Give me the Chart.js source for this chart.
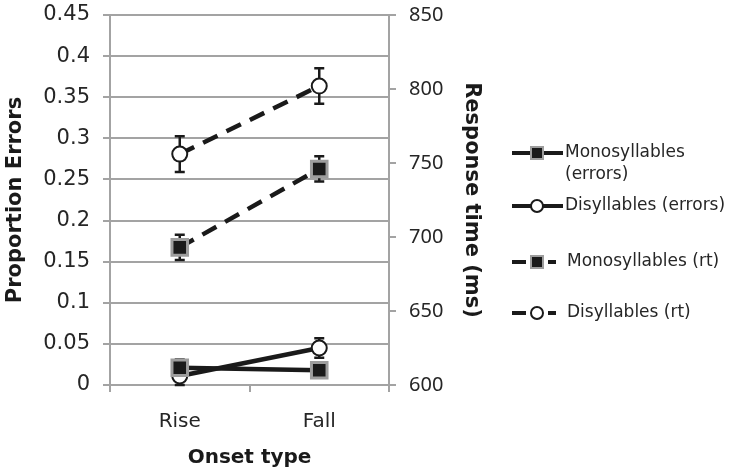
<!DOCTYPE html>
<html>
<head>
<meta charset="utf-8">
<script src="https://cdn.jsdelivr.net/npm/chart.js@4/dist/chart.umd.min.js"></script>
<style>
  html, body { margin: 0; padding: 0; background: #fff; }
  #wrap { width: 736px; height: 473px; }
</style>
</head>
<body>
<div id="wrap"><canvas id="myChart" width="736" height="473"></canvas></div>
<script>
const categories = ['Rise', 'Fall'];

// proportion errors (left axis)
const monoErrors = [0.021, 0.018];
const monoErrorsSE = [0.010, 0.009];
const diErrors = [0.011, 0.045];
const diErrorsSE = [0.011, 0.012];

// response times in ms (right axis)
const monoRt = [693, 746];
const monoRtSE = [8.5, 8.5];
const diRt = [756, 802];
const diRtSE = [12, 12];

const errorTicks = [0, 0.05, 0.1, 0.15, 0.2, 0.25, 0.3, 0.35, 0.4, 0.45];
const rtTicks = [600, 650, 700, 750, 800, 850];

const legendNames = ['Monosyllables (errors)', 'Disyllables (errors)', 'Monosyllables (rt)', 'Disyllables (rt)'];

const font = 'DejaVu Sans';
const ink = '#1a1a1a';
const textInk = '#262626';
const gridGray = '#a3a3a3';

const squareMarker = {
	pointStyle: 'rect', pointRadius: 11, pointHoverRadius: 11,
	pointBackgroundColor: ink, pointBorderColor: '#9d9d9d', pointBorderWidth: 3
};
const circleMarker = {
	pointStyle: 'circle', pointRadius: 7.5, pointHoverRadius: 7.5,
	pointBackgroundColor: '#fff', pointBorderColor: ink, pointBorderWidth: 2
};

const errorBars = {
	id: 'errorBars',
	beforeDatasetsDraw(chart) {
		const c = chart.ctx;
		const x = chart.scales.x;
		c.save();
		c.strokeStyle = ink;
		c.lineWidth = 2.5;
		chart.data.datasets.forEach(ds => {
			const y = chart.scales[ds.yAxisID];
			ds.data.forEach((v, i) => {
				const px = x.getPixelForValue(i);
				const top = y.getPixelForValue(v + ds.se[i]);
				const bot = y.getPixelForValue(Math.max(0, v - ds.se[i]));
				c.beginPath();
				c.moveTo(px, top); c.lineTo(px, bot);
				c.moveTo(px - 5, top); c.lineTo(px + 5, top);
				c.moveTo(px - 5, bot); c.lineTo(px + 5, bot);
				c.stroke();
			});
		});
		c.restore();
	}
};

const sideLegend = {
	id: 'sideLegend',
	afterDraw(chart) {
		const c = chart.ctx;
		const rows = [
			{ y: 153, lines: ['Monosyllables', '(errors)'] },
			{ y: 206, lines: ['Disyllables (errors)'] },
			{ y: 262, lines: ['Monosyllables (rt)'] },
			{ y: 313, lines: ['Disyllables (rt)'] }
		];
		c.save();
		chart.data.datasets.forEach((ds, i) => {
			const r = rows[i];
			c.strokeStyle = ink;
			c.lineWidth = 4;
			c.beginPath();
			if (ds.borderDash) {
				c.moveTo(512, r.y); c.lineTo(526, r.y);
				c.moveTo(548, r.y); c.lineTo(556, r.y);
			} else {
				c.moveTo(512, r.y); c.lineTo(563, r.y);
			}
			c.stroke();
			c.lineWidth = 2;
			if (ds.pointStyle === 'rect') {
				c.fillStyle = ink;
				c.strokeStyle = '#9d9d9d';
				c.fillRect(531, r.y - 6, 12, 12);
				c.strokeRect(531, r.y - 6, 12, 12);
			} else {
				c.fillStyle = '#fff';
				c.beginPath();
				c.arc(537, r.y, 6, 0, Math.PI * 2);
				c.fill(); c.stroke();
			}
			c.fillStyle = textInk;
			c.font = '17px "' + font + '"';
			c.textBaseline = 'middle';
			const tx = ds.borderDash ? 567 : 565;
			r.lines.forEach((t, k) => c.fillText(t, tx, r.y + k * 22));
		});
		c.restore();
	}
};

// keep the plot box where the original has it
const fixVertical = w => s => { s.width = w; s.paddingTop = 0; s.paddingBottom = 0; };

const ctx = document.getElementById('myChart').getContext('2d');
let myChart = new Chart(ctx, {
	type: 'line',
	data: {
		labels: categories,
		datasets: [
			{ label: legendNames[0], data: monoErrors, se: monoErrorsSE, yAxisID: 'y', borderColor: ink, borderWidth: 4.5, ...squareMarker },
			{ label: legendNames[1], data: diErrors, se: diErrorsSE, yAxisID: 'y', borderColor: ink, borderWidth: 4.5, ...circleMarker },
			{ label: legendNames[2], data: monoRt, se: monoRtSE, yAxisID: 'y2', borderColor: ink, borderWidth: 4.5, borderDash: [16, 10], ...squareMarker },
			{ label: legendNames[3], data: diRt, se: diRtSE, yAxisID: 'y2', borderColor: ink, borderWidth: 4.5, borderDash: [16, 10], ...circleMarker }
		]
	},
	options: {
		responsive: false,
		animation: false,
		layout: { padding: { left: 0, right: 252, top: 15, bottom: 0 } },
		plugins: { legend: { display: false }, tooltip: { enabled: false } },
		scales: {
			x: {
				offset: true,
				afterFit: s => { s.height = 88; s.paddingLeft = 0; s.paddingRight = 0; },
				grid: { offset: true, drawOnChartArea: false, drawTicks: true, tickLength: 7, color: gridGray, lineWidth: 2 },
				border: { display: false },
				ticks: { color: textInk, font: { family: font, size: 20 }, padding: 18 },
				title: { display: true, text: 'Onset type', color: ink, font: { family: font, size: 20, weight: 'bold' }, padding: { top: 4, bottom: 3 } }
			},
			y: {
				position: 'left',
				min: 0, max: 0.45,
				afterBuildTicks: s => { s.ticks = errorTicks.map(v => ({ value: v })); },
				afterFit: fixVertical(110),
				grid: { color: gridGray, lineWidth: 2, tickLength: 7 },
				border: { color: gridGray, width: 2 },
				ticks: { color: textInk, font: { family: font, size: 21 }, padding: 13, callback: v => String(v) },
				title: { display: true, text: 'Proportion Errors', color: ink, font: { family: font, size: 21, weight: 'bold' }, padding: { top: 3, bottom: 0 } }
			},
			y2: {
				position: 'right',
				min: 600, max: 850,
				afterBuildTicks: s => { s.ticks = rtTicks.map(v => ({ value: v })); },
				afterFit: fixVertical(95),
				grid: { drawOnChartArea: false, color: gridGray, lineWidth: 2, tickLength: 7 },
				border: { color: gridGray, width: 2 },
				ticks: { color: textInk, font: { family: 'Noto Sans', size: 20 }, padding: 13, callback: v => String(v) },
				title: { display: true, text: 'Response time (ms)', color: ink, font: { family: font, size: 21, weight: 'bold' }, padding: 0 }
			}
		}
	},
	plugins: [errorBars, sideLegend]
});
</script>
</body>
</html>
